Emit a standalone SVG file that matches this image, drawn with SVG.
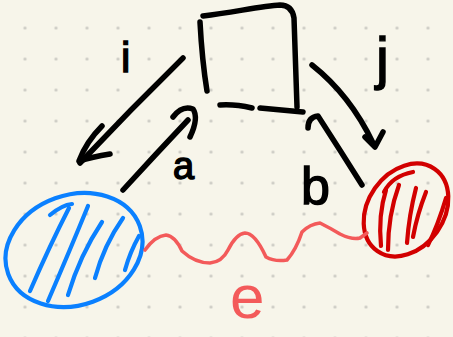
<svg xmlns="http://www.w3.org/2000/svg" width="453" height="337" viewBox="0 0 453 337">
<defs>
<pattern id="dots" x="9.5" y="12.5" width="31" height="31" patternUnits="userSpaceOnUse">
<circle cx="15.5" cy="15.5" r="1.6" fill="#cbcac3"/>
</pattern>
<style>
.ink{fill:none;stroke:#000;stroke-width:5.5;stroke-linecap:round;stroke-linejoin:round}
.blue{fill:none;stroke:#0a80ff;stroke-width:4.2;stroke-linecap:round;stroke-linejoin:round}
.red{fill:none;stroke:#d20000;stroke-width:4.2;stroke-linecap:round;stroke-linejoin:round}
.wave{fill:none;stroke:#f35a5a;stroke-width:3.6;stroke-linecap:round;stroke-linejoin:round}
.lbl{font-family:"Liberation Sans","DejaVu Sans",sans-serif;fill:#000;stroke:#000;stroke-width:1.4}
.lble{font-family:"Liberation Sans","DejaVu Sans",sans-serif;fill:#f35a5a}
</style>
</defs>
<rect width="453" height="337" fill="#f7f5ea"/>
<rect width="453" height="337" fill="url(#dots)"/>

<g id="node-square">
<path class="ink" d="M203,16 C235,12 262,6 280,5 Q292,5 294,18 L297,107"/>
<path class="ink" d="M200,22 Q202,60 207,91"/>
<path class="ink" d="M220,105 Q235,104 252,108"/>
<path class="ink" d="M260,108 L303,112"/>
</g>

<g id="node-blue">
<ellipse class="blue" cx="74" cy="250" rx="70" ry="55" transform="rotate(-20 74 250)"/>
<path class="blue" d="M50,215 Q62,205 72,204"/>
<path class="blue" d="M69,208 Q50,245 30,291"/>
<path class="blue" d="M88,206 Q70,250 48,301"/>
<path class="blue" d="M102,222 Q80,255 68,295"/>
<path class="blue" d="M123,218 Q104,245 95,278"/>
<path class="blue" d="M139,236 Q130,252 125,270"/>
</g>

<g id="node-red">
<ellipse class="red" cx="406" cy="210" rx="50" ry="38" transform="rotate(-55 406 210)"/>
<path class="red" d="M384,192 Q392,176 413,172"/>
<path class="red" d="M386,190 Q378,215 381,246"/>
<path class="red" d="M399,185 Q388,215 388,250"/>
<path class="red" d="M416,188 Q409,215 407,243"/>
<path class="red" d="M426,192 Q417,215 413,237"/>
<path class="red" d="M446,198 Q438,225 428,245"/>
</g>

<g id="connectors">
<g id="edge-i">
<path class="ink" d="M183,58 Q130,110 80,163"/>
<path class="ink" d="M102,126 Q86,142 79,161 Q92,157 110,154"/>
</g>
<g id="edge-j">
<path class="ink" d="M312,65 Q350,95 373,143"/>
<path class="ink" d="M365,137 L375,147 L383,132"/>
</g>
<g id="edge-a">
<path class="ink" d="M123,190 Q155,155 188,120"/>
<path class="ink" d="M173,117 Q182,105 193,109 Q199,118 190,137"/>
</g>
<g id="edge-b">
<path class="ink" d="M308,128 Q308,117 318,116 Q340,150 362,185"/>
</g>
<g id="edge-e">
<path class="wave" d="M145,250 Q155,236 166,235 Q175,236 182,251 Q195,263 210,263 Q222,262 228,250 Q236,234 245,233 Q255,233 266,257 Q275,262 287,260 Q296,250 302,232 Q310,224 320,223 Q330,228 340,234 Q352,240 360,238 L367,233"/>
</g>
</g>

<g id="labels">
<text class="lbl" x="121" y="72" font-size="42">i</text>
<text class="lbl" x="376" y="78" font-size="58">j</text>
<text class="lbl" x="173" y="179" font-size="38">a</text>
<text class="lbl" x="301" y="204" font-size="52">b</text>
<text class="lble" x="230" y="318" font-size="62">e</text>
</g>
</svg>
